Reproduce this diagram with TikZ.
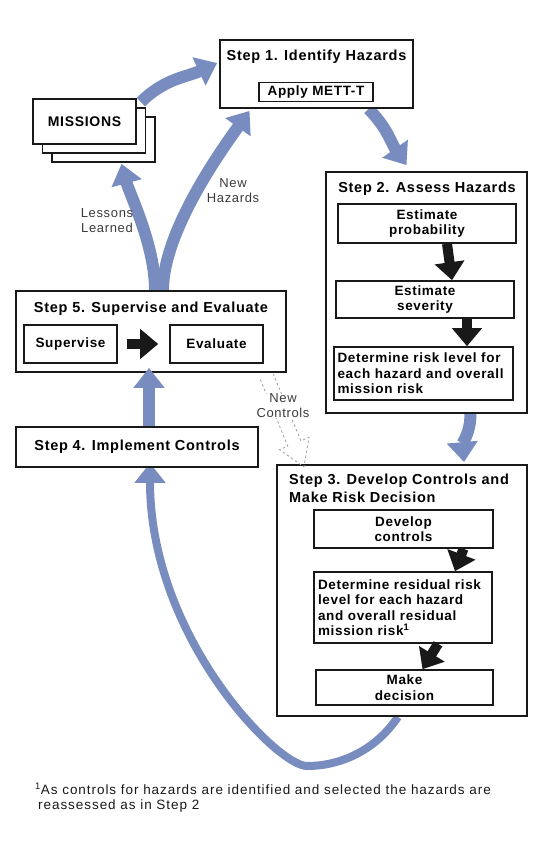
\documentclass[tikz,border=0pt]{standalone}
\usepackage{fontspec}
\setmainfont{Liberation Sans}
\newfontfamily\boxfont{Liberation Sans}[LetterSpace=5]
\newfontfamily\labelfont{Liberation Sans}[LetterSpace=5]
\newfontfamily\notefont{Liberation Sans}[LetterSpace=7]
\usetikzlibrary{arrows.meta}
\definecolor{flowblue}{RGB}{120,140,192}
\definecolor{ink}{RGB}{25,25,25}
\pgfdeclarelayer{back}
\pgfsetlayers{back,main}

\begin{document}
\begin{tikzpicture}[x=1pt,y=1pt,
  box/.style={draw=ink, line width=1.8pt, fill=white, inner sep=0pt},
  subbox/.style={draw=ink, line width=1.6pt, fill=white, inner sep=0pt,
    font=\boxfont\bfseries\fontsize{13.5}{15.5}\selectfont, align=center},
  title/.style={font=\boxfont\bfseries\fontsize{14.5}{18}\selectfont, inner sep=0pt},
  flow/.style={draw=flowblue, line width=12pt, -{Triangle[length=20pt,width=30pt]}},
  flowloop/.style={draw=flowblue, line width=8pt, -{Triangle[length=20pt,width=30pt]}},
  push/.style={draw=ink, line width=10pt, -{Triangle[length=18pt,width=29pt]}},
  lbl/.style={font=\labelfont\fontsize{13}{15}\selectfont, text=ink!85, align=center, inner sep=1pt},
  newctrl/.style={draw=gray!75, line width=0.8pt, dash pattern=on 2.5pt off 2.5pt},
]
\useasboundingbox (0,0) rectangle (532,-850);

% ---- missions stack ----
\node[box, minimum width=103pt, minimum height=45pt] (m3) at (103.5,-139.5) {};
\node[box, minimum width=103pt, minimum height=45pt] (m2) at (94,-130.5) {};
\node[box, minimum width=103pt, minimum height=45pt,
  font=\boxfont\bfseries\fontsize{14}{16}\selectfont] (m1) at (84.5,-121.5) {MISSIONS};

% ---- step 1 ----
\node[box, minimum width=193pt, minimum height=68pt] (s1) at (316.5,-74) {};
\node[title] (t1) at (316.5,-57) {Step 1. Identify Hazards};
\node[subbox, minimum width=114pt, minimum height=19pt] (mett) at (316,-92) {Apply METT-T};

% ---- step 2 ----
\node[box, minimum width=201pt, minimum height=241pt] (s2) at (426.5,-292.5) {};
\node[title] (t2) at (427,-189) {Step 2. Assess Hazards};
\node[subbox, minimum width=178pt, minimum height=39pt] (ep) at (427,-223.5) {Estimate\\probability};
\node[subbox, minimum width=178pt, minimum height=37pt] (es) at (425,-299.5) {Estimate\\severity};
\node[subbox, minimum width=179pt, minimum height=53pt, text width=172pt, align=left]
  (dr) at (423.5,-373.5) {Determine risk level for\\each hazard and overall\\mission risk};

% ---- step 3 ----
\node[box, minimum width=250pt, minimum height=251pt] (s3) at (402,-590.5) {};
\node[title, anchor=north west, align=left] (t3) at (289,-474)
  {Step 3. Develop Controls and\\Make Risk Decision};
\node[subbox, minimum width=179pt, minimum height=38pt] (dc) at (403.5,-529) {Develop\\controls};
\node[subbox, minimum width=178pt, minimum height=71pt, text width=170pt, align=left]
  (rr) at (403,-607.5) {Determine residual risk\\level for each hazard\\and overall residual\\mission risk\textsuperscript{1}};
\node[subbox, minimum width=177pt, minimum height=35pt] (md) at (404.5,-687.5) {Make\\decision};

% ---- step 4 ----
\node[box, minimum width=242pt, minimum height=40pt, font=\boxfont\bfseries\fontsize{14.5}{18}\selectfont]
  (s4) at (137,-447) {Step 4. Implement Controls};

% ---- step 5 ----
\node[box, minimum width=270pt, minimum height=81pt] (s5) at (151,-331.5) {};
\node[title] (t5) at (151,-309) {Step 5. Supervise and Evaluate};
\node[subbox, minimum width=93pt, minimum height=38pt] (sup) at (70.5,-344) {Supervise};
\node[subbox, minimum width=93pt, minimum height=38pt] (ev) at (216.5,-344) {Evaluate};

% ---- black arrows inside the steps ----
\draw[push] ([xshift=9pt]sup.east) -- ([xshift=-11pt]ev.west);
\draw[push] ([xshift=20pt]ep.south) -- ([xshift=27pt]es.north);
\draw[push] ([xshift=42pt]es.south) -- ([xshift=43.5pt]dr.north);
\draw[push] ([xshift=60pt]dc.south) -- ([xshift=52pt]rr.north);
\draw[push] ([xshift=35pt]rr.south) -- ([xshift=18pt]md.north);

% ---- blue cycle arrows ----
\coordinate (loopbottom) at (307,-766);
\begin{pgfonlayer}{back}
\draw[flow] ([xshift=4pt,yshift=-4pt]m1.north east) to[out=45,in=205] ([xshift=-2pt,yshift=11pt]s1.west);
\draw[flow] ([xshift=52pt]s1.south) to[out=-45,in=125] ([xshift=-20pt,yshift=6pt]s2.north);
\draw[flow] ([xshift=44pt]s2.south) to[out=-90,in=95] ([xshift=62pt,yshift=2pt]s3.north);
\draw[flowloop] ([xshift=-4pt]s3.south) .. controls +(-23,-34) and +(33,0) .. (loopbottom)
  .. controls +(-30,0) and +(0,-174) .. ([xshift=13pt,yshift=5pt]s4.south);
\draw[flow] ([xshift=4pt]s5.north) .. controls +(0,45) and +(8,-30) .. ([xshift=18pt,yshift=-1pt]m3.south);
\draw[flow] ([xshift=12pt]s5.north) .. controls +(0,60) and +(-25,-35) .. ([xshift=-67pt,yshift=-2pt]s1.south);
\end{pgfonlayer}
\draw[flow] ([xshift=12pt]s4.north) -- ([xshift=-2pt,yshift=5pt]s5.south);

% ---- new controls (hollow dashed arrow) ----
\coordinate (nc) at ([xshift=-20pt,yshift=-4pt]s5.south east);
\draw[newctrl] (nc) ++(-6.5,-2.7) -- ++(27.4,-66.6) -- ++(-8.3,-3.4) -- ++(24.4,-17.3)
  -- ++(5.2,29.5) -- ++(-8.3,-3.4) -- ++(-27.4,66.6);
\node[lbl, fill=white, inner sep=0pt] (lnc) at (283,-406) {New\\Controls};

% ---- arrow labels ----
\node[lbl] (lll) at (107,-221) {Lessons\\Learned};
\node[lbl] (lnh) at (233,-191) {New\\Hazards};

% ---- footnote ----
\node[anchor=north west, align=left, inner sep=0pt, text=ink,
  font=\notefont\fontsize{13.5}{14.5}\selectfont] (fn) at (35,-783)
  {\textsuperscript{1}As controls for hazards are identified and selected the hazards are\\
   \hspace{3pt}reassessed as in Step 2};
\end{tikzpicture}
\end{document}
